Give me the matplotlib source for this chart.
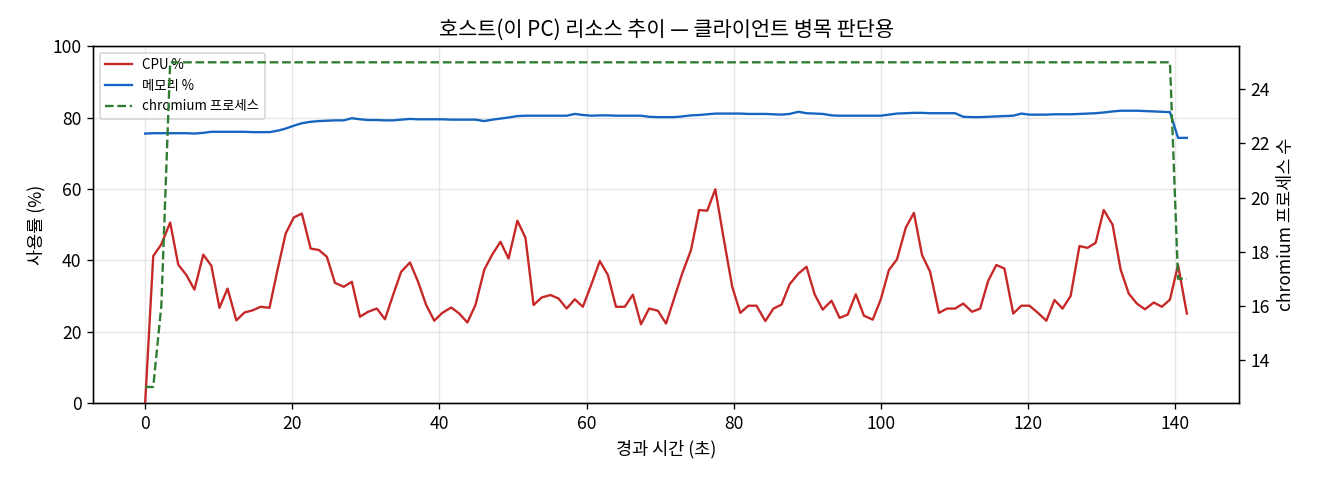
import matplotlib
matplotlib.use("Agg")
import matplotlib.pyplot as plt

plt.rcParams['font.family'] = ['Noto Sans CJK KR', 'DejaVu Sans']
plt.rcParams['axes.unicode_minus'] = False
plt.rcParams['font.size'] = 10.5

# elapsed time of each sample (s)
elapsed = [
    0.0, 1.1, 2.2, 3.4, 4.5, 5.6, 6.7, 7.9, 9.0, 10.1,
    11.2, 12.4, 13.5, 14.6, 15.7, 16.9, 18.0, 19.1, 20.2, 21.3,
    22.5, 23.6, 24.7, 25.8, 27.0, 28.1, 29.2, 30.3, 31.5, 32.6,
    33.7, 34.8, 36.0, 37.1, 38.2, 39.3, 40.4, 41.6, 42.7, 43.8,
    44.9, 46.1, 47.2, 48.3, 49.4, 50.6, 51.7, 52.8, 53.9, 55.1,
    56.2, 57.3, 58.4, 59.5, 60.7, 61.8, 62.9, 64.0, 65.2, 66.3,
    67.4, 68.5, 69.7, 70.8, 71.9, 73.0, 74.2, 75.3, 76.4, 77.5,
    78.6, 79.8, 80.9, 82.0, 83.1, 84.3, 85.4, 86.5, 87.6, 88.8,
    89.9, 91.0, 92.1, 93.3, 94.4, 95.5, 96.6, 97.7, 98.9, 100.0,
    101.1, 102.2, 103.4, 104.5, 105.6, 106.7, 107.9, 109.0, 110.1, 111.2,
    112.4, 113.5, 114.6, 115.7, 116.8, 118.0, 119.1, 120.2, 121.3, 122.5,
    123.6, 124.7, 125.8, 127.0, 128.1, 129.2, 130.3, 131.5, 132.6, 133.7,
    134.8, 135.9, 137.1, 138.2, 139.3, 140.4, 141.6,
]

cpu_pct = [
    0.0, 41.2, 44.5, 50.6, 38.8, 35.9, 31.8, 41.6, 38.5, 26.7,
    32.1, 23.2, 25.4, 26.0, 27.0, 26.7, 37.4, 47.5, 52.0, 53.1,
    43.3, 42.9, 41.0, 33.7, 32.6, 34.0, 24.2, 25.6, 26.5, 23.5,
    30.3, 36.8, 39.4, 34.0, 27.5, 23.1, 25.3, 26.8, 25.1, 22.6,
    27.5, 37.4, 41.7, 45.2, 40.5, 51.1, 46.3, 27.5, 29.6, 30.3,
    29.3, 26.5, 29.1, 27.0, 33.5, 39.8, 35.9, 27.0, 27.0, 30.4,
    22.1, 26.5, 25.9, 22.3, 29.3, 36.3, 42.9, 54.1, 53.9, 59.9,
    46.6, 32.6, 25.3, 27.3, 27.3, 23.0, 26.5, 27.6, 33.3, 36.3,
    38.2, 30.5, 26.2, 28.7, 23.9, 24.8, 30.5, 24.5, 23.4, 29.1,
    37.3, 40.3, 49.2, 53.3, 41.5, 36.8, 25.3, 26.5, 26.5, 27.9,
    25.6, 26.5, 34.3, 38.7, 37.7, 25.1, 27.3, 27.3, 25.4, 23.1,
    28.9, 26.5, 30.0, 44.0, 43.5, 44.9, 54.1, 50.0, 37.4, 30.7,
    27.9, 26.3, 28.2, 27.0, 29.0, 38.7, 25.1,
]

mem_pct = [
    75.5, 75.6, 75.6, 75.6, 75.6, 75.6, 75.5, 75.7, 76.0, 76.0,
    76.0, 76.0, 76.0, 75.9, 75.9, 75.9, 76.3, 76.9, 77.7, 78.4,
    78.8, 79.0, 79.1, 79.2, 79.2, 79.8, 79.5, 79.3, 79.3, 79.2,
    79.2, 79.4, 79.6, 79.5, 79.5, 79.5, 79.5, 79.4, 79.4, 79.4,
    79.4, 79.0, 79.4, 79.7, 80.0, 80.4, 80.5, 80.5, 80.5, 80.5,
    80.5, 80.5, 81.0, 80.7, 80.5, 80.6, 80.6, 80.5, 80.5, 80.5,
    80.5, 80.2, 80.1, 80.1, 80.1, 80.3, 80.6, 80.7, 80.9, 81.1,
    81.1, 81.1, 81.1, 81.0, 81.0, 81.0, 80.9, 80.8, 81.0, 81.6,
    81.2, 81.1, 81.0, 80.6, 80.5, 80.5, 80.5, 80.5, 80.5, 80.5,
    80.8, 81.1, 81.2, 81.3, 81.3, 81.2, 81.2, 81.2, 81.2, 80.2,
    80.1, 80.1, 80.2, 80.3, 80.4, 80.5, 81.1, 80.8, 80.8, 80.8,
    80.9, 80.9, 80.9, 81.0, 81.1, 81.2, 81.4, 81.7, 81.9, 81.9,
    81.9, 81.8, 81.7, 81.6, 81.5, 74.3, 74.3,
]

chromium_procs = [13, 13, 16] + [25] * 122 + [17, 17]

# ==========================================
# FIGURE
# ==========================================

fig, ax1 = plt.subplots(figsize=(11, 4), dpi=120)
fig.subplots_adjust(left=0.0705, right=0.9386, top=0.904, bottom=0.16)

l1, = ax1.plot(elapsed, cpu_pct, color='#c62828', lw=1.4, label='CPU %')
l2, = ax1.plot(elapsed, mem_pct, color='#1565c0', lw=1.4, label='메모리 %')
ax1.set_ylim(0, 100)
ax1.set_xlabel('경과 시간 (초)', fontsize=10.5)
ax1.set_ylabel('사용률 (%)', fontsize=10.5)
ax1.grid(True, alpha=0.3)

ax2 = ax1.twinx()
l3, = ax2.plot(elapsed, chromium_procs, color='#2e7d32', lw=1.4,
               linestyle='--', label='chromium 프로세스')
ax2.set_ylabel('chromium 프로세스 수', fontsize=10.5)

ax1.set_title('호스트(이 PC) 리소스 추이 — 클라이언트 병목 판단용', fontsize=12.5)
ax1.legend(handles=[l1, l2, l3], loc='upper left', fontsize=8)

fig.savefig('out.png', dpi=120)
